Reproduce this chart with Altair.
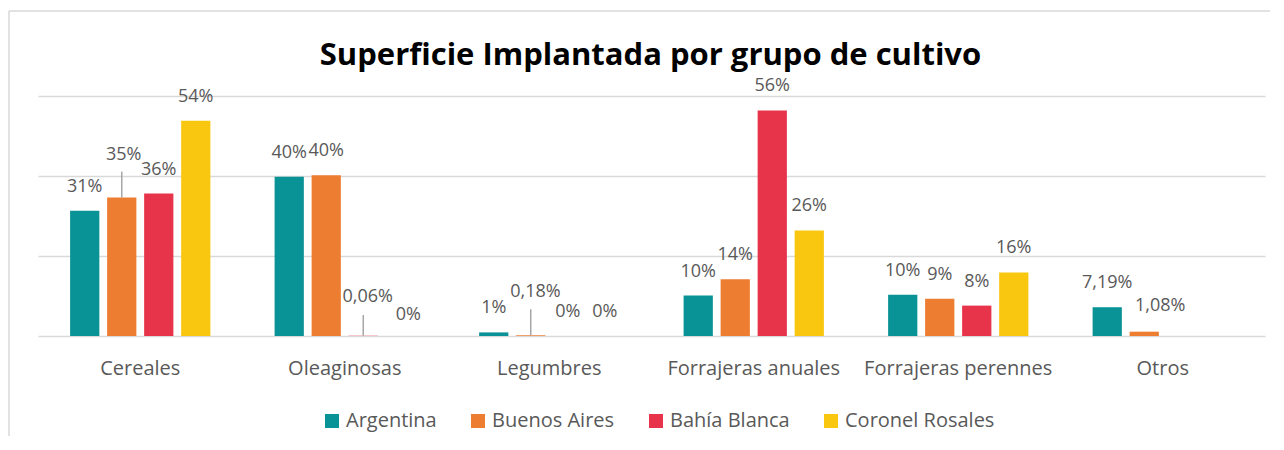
import altair as alt
import pandas as pd

title_text = "Superficie Implantada por grupo de cultivo"
categories = ["Cereales", "Oleaginosas", "Legumbres", "Forrajeras anuales", "Forrajeras perennes", "Otros"]
series_names = ["Argentina", "Buenos Aires", "Bahía Blanca", "Coronel Rosales"]
colors = ["#0A9396", "#ED7D31", "#E8344A", "#F9C710"]

argentina = [31.3, 39.8, 0.9, 10.1, 10.3, 7.19]
buenos_aires = [34.6, 40.2, 0.18, 14.2, 9.3, 1.08]
bahia_blanca = [35.6, 0.06, 0.0, 56.4, 7.6, None]
coronel_rosales = [53.8, 0.0, 0.0, 26.4, 15.9, None]

labels_argentina = ["31%", "40%", "1%", "10%", "10%", "7,19%"]
labels_buenos_aires = ["35%", "40%", "0,18%", "14%", "9%", "1,08%"]
labels_bahia_blanca = ["36%", "0,06%", "0%", "56%", "8%", None]
labels_coronel_rosales = ["54%", "0%", "0%", "26%", "16%", None]

# leader lines (callouts) for displaced labels: category, series, top value
leader_categories = ["Cereales", "Oleaginosas", "Legumbres"]
leader_series = ["Buenos Aires", "Bahía Blanca", "Buenos Aires"]
leader_tops = [41.1, 5.25, 6.7]

values = [argentina, buenos_aires, bahia_blanca, coronel_rosales]
labels = [labels_argentina, labels_buenos_aires, labels_bahia_blanca, labels_coronel_rosales]

rows = []
for s, vals, labs in zip(series_names, values, labels):
    for c, v, l in zip(categories, vals, labs):
        if v is None:
            continue
        rows.append({"category": c, "series": s, "value": v, "label": l, "key": c + "|" + s})
df = pd.DataFrame(rows)

leader_rows = []
for c, s, t in zip(leader_categories, leader_series, leader_tops):
    base_v = df[(df.category == c) & (df.series == s)]["value"].iloc[0]
    leader_rows.append({"category": c, "series": s, "y0": base_v, "y1": t})
leader_df = pd.DataFrame(leader_rows)

GRAY = "#595959"
FONT = "Open Sans"
W, H = 1227, 240

x_enc = alt.X("category:N", sort=categories,
              scale=alt.Scale(paddingInner=0.314, paddingOuter=0.157),
              axis=alt.Axis(title=None, labelFontSize=20, labelFont=FONT, labelColor=GRAY,
                            ticks=False, domain=False, labelPadding=22, labelAngle=0,
                            labelLimit=400))
xo_enc = alt.XOffset("series:N", sort=series_names,
                     scale=alt.Scale(domain=series_names, paddingInner=0.21, paddingOuter=0))
y_enc = alt.Y("value:Q", scale=alt.Scale(domain=[0, 60], nice=False),
              axis=alt.Axis(title=None, labels=False, ticks=False, domain=False,
                            values=[0, 20, 40, 60], gridColor="#d9d9d9", gridWidth=1.5))

bars = alt.Chart(df).mark_bar().encode(
    x=x_enc, xOffset=xo_enc, y=y_enc,
    color=alt.Color("series:N", sort=series_names,
                    scale=alt.Scale(domain=series_names, range=colors),
                    legend=alt.Legend(title=None, orient="none", legendX=284, legendY=315,
                                      direction="horizontal", symbolType="square",
                                      symbolSize=196, symbolStrokeWidth=0,
                                      labelFontSize=20, labelFont=FONT, labelColor=GRAY,
                                      labelOffset=4, columnPadding=31, labelLimit=400)),
)

leaders = alt.Chart(leader_df).mark_rule(color="#a6a6a6", strokeWidth=1.5, xOffset=2).encode(
    x=alt.X("category:N", sort=categories),
    xOffset=alt.XOffset("series:N", sort=series_names),
    y=alt.Y("y0:Q"), y2="y1:Q",
)

nudges = {
    "Cereales|Buenos Aires": (2, -43),
    "Oleaginosas|Bahía Blanca": (4.5, -38.5),
    "Oleaginosas|Coronel Rosales": (8, -21.5),
    "Legumbres|Buenos Aires": (4.7, -43),
    "Otros|Buenos Aires": (16, -26),
}

def text_layer(dx, dy, filt):
    return alt.Chart(df).transform_filter(filt).mark_text(
        fontSize=18, font=FONT, color=GRAY, baseline="middle", align="center", dx=dx, dy=dy
    ).encode(
        x=alt.X("category:N", sort=categories),
        xOffset=alt.XOffset("series:N", sort=series_names),
        y=alt.Y("value:Q"),
        text="label:N",
    )

special_keys = list(nudges.keys())
default_filter = " && ".join(["datum.key != '%s'" % k for k in special_keys])
texts = [text_layer(0, -24, default_filter)]
for k, (dx, dy) in nudges.items():
    texts.append(text_layer(dx, dy, "datum.key == '%s'" % k))

frame_df = pd.DataFrame({"title": [title_text]})
left_border = alt.Chart(frame_df).mark_rule(color="#d9d9d9", strokeWidth=1.5).encode(
    x=alt.value(-29), y=alt.value(-85), y2=alt.value(340))
top_border = alt.Chart(frame_df).mark_rule(color="#d9d9d9", strokeWidth=1.5).encode(
    x=alt.value(-29), x2=alt.value(1232), y=alt.value(-85))
title = alt.Chart(frame_df).mark_text(
    font="Open Sans", fontSize=31, fontWeight="bold", color="black",
    align="center", baseline="alphabetic"
).encode(x=alt.value(W / 2 - 1), y=alt.value(-31), text="title:N")

chart = alt.layer(left_border, top_border, title, bars, leaders, *texts).properties(
    width=W, height=H,
    padding={"left": 0, "top": 2, "right": 0, "bottom": 0},
).configure(background="white").configure_view(stroke=None)

chart.save("out.html", embed_options={"renderer": "svg", "actions": False})
